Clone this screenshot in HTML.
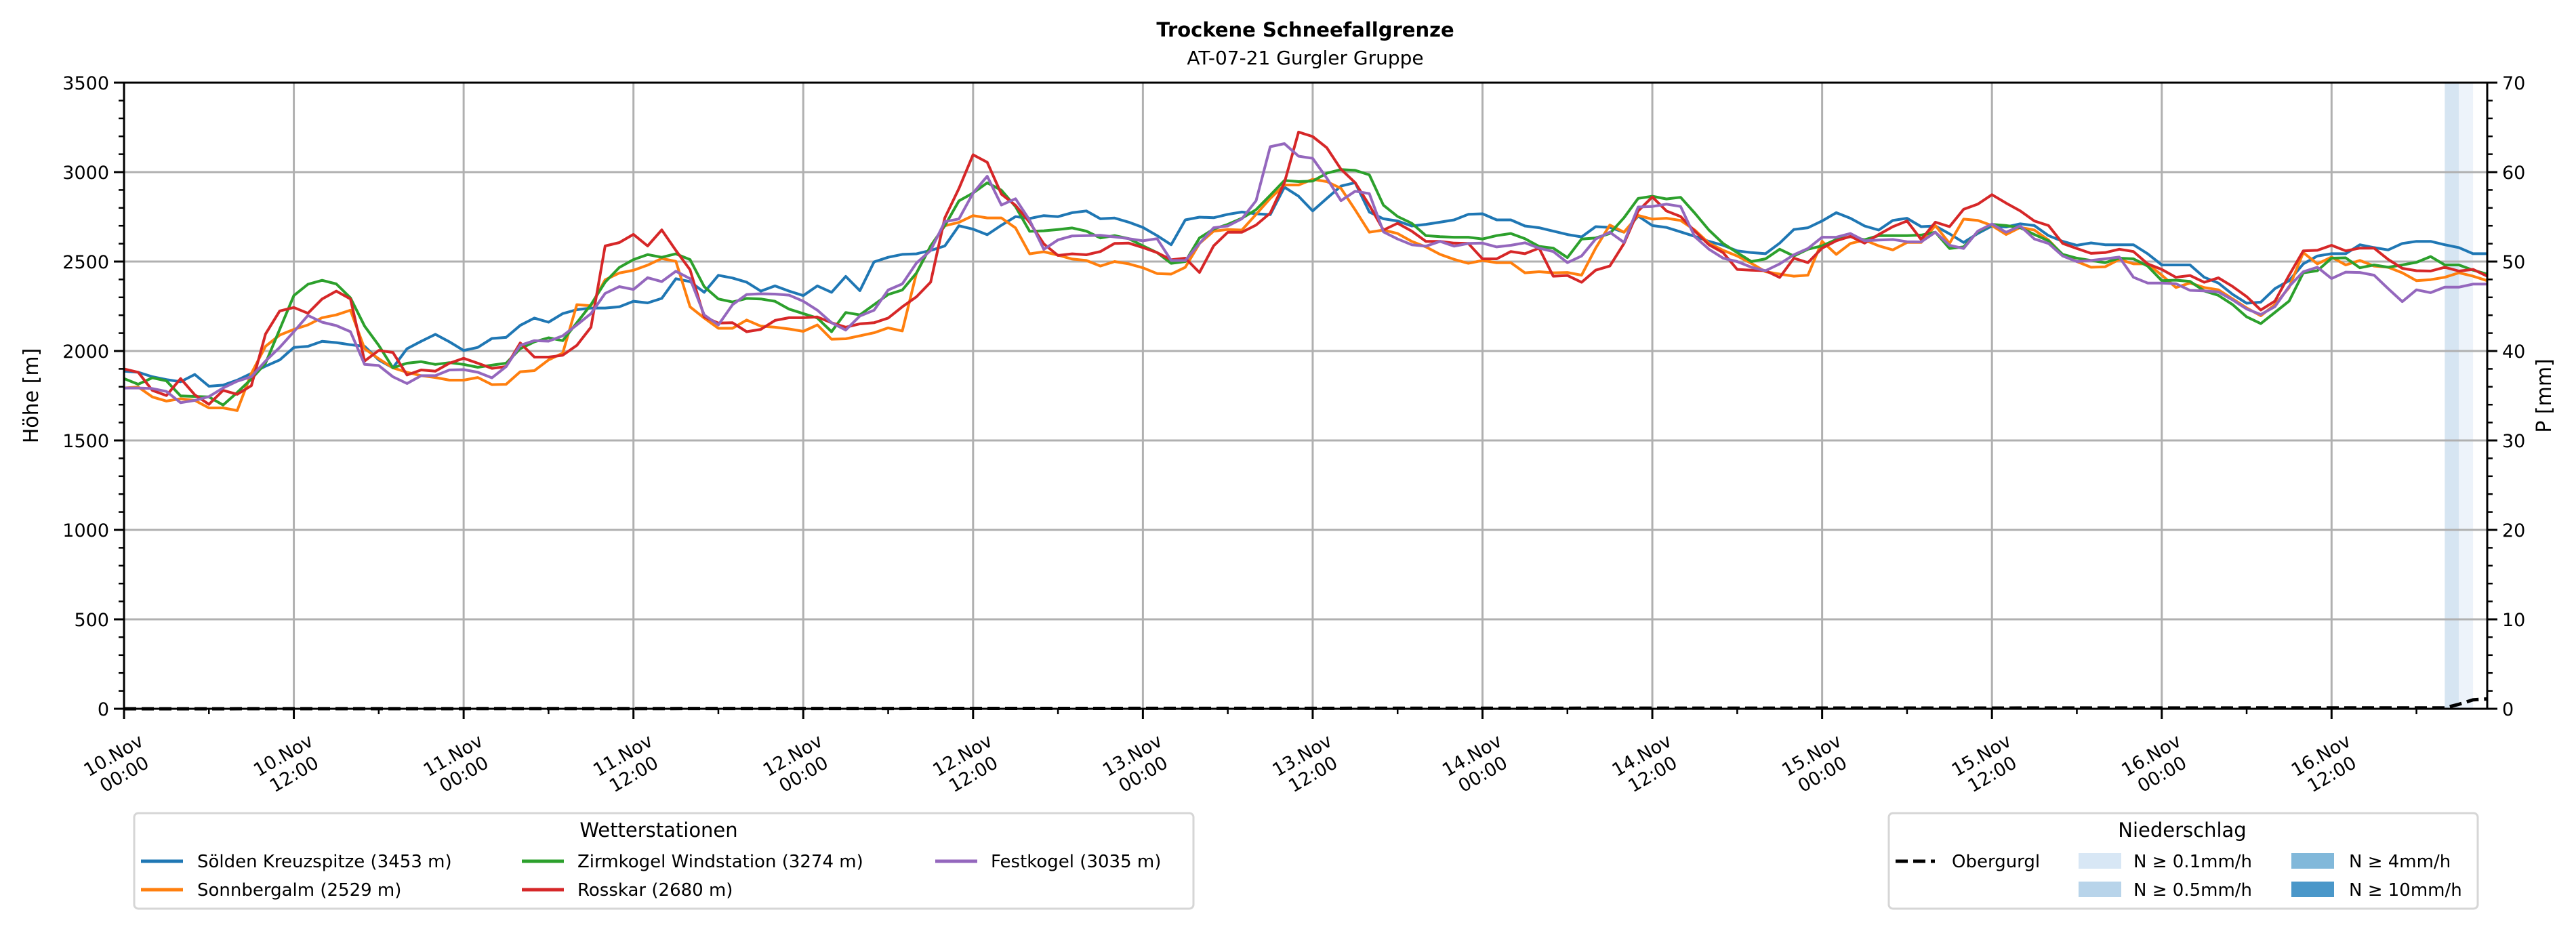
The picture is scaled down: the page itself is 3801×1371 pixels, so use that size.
<!DOCTYPE html>
<html>
<head>
<meta charset="utf-8">
<style>
  html,body{margin:0;padding:0;background:#fff;}
  svg{display:block;font-family:"DejaVu Sans","Liberation Sans",sans-serif;}
</style>
</head>
<body>
<svg id="chart" xmlns="http://www.w3.org/2000/svg" width="3801" height="1371" viewBox="0 0 3801 1371">
  <rect width="3801" height="1371" fill="#fff"/>
  <text x="1926" y="54" text-anchor="middle" font-size="29" font-weight="bold">Trockene Schneefallgrenze</text>
  <text x="1926" y="95" text-anchor="middle" font-size="28">AT-07-21 Gurgler Gruppe</text>
  <g id="bands"></g>
  <g id="grid"></g>
  <g id="series"></g>
  <g id="axes"></g>
  <text transform="translate(56,584) rotate(-90)" text-anchor="middle" font-size="30">Höhe [m]</text>
  <text transform="translate(3764,584) rotate(-90)" text-anchor="middle" font-size="30">P [mm]</text>

  <g>
    <rect x="198" y="1200" width="1563" height="141" rx="6" fill="#fff" stroke="#d6d6d6" stroke-width="3"/>
    <text x="972" y="1235" text-anchor="middle" font-size="29">Wetterstationen</text>
    <g><line x1="208" y1="1271" x2="270" y2="1271" stroke="#1f77b4" stroke-width="5"/><text x="291" y="1280" font-size="26">Sölden Kreuzspitze (3453 m)</text></g>
    <g><line x1="208" y1="1313" x2="270" y2="1313" stroke="#ff7f0e" stroke-width="5"/><text x="291" y="1322" font-size="26">Sonnbergalm (2529 m)</text></g>
    <g><line x1="770" y1="1271" x2="832" y2="1271" stroke="#2ca02c" stroke-width="5"/><text x="852" y="1280" font-size="26">Zirmkogel Windstation (3274 m)</text></g>
    <g><line x1="770" y1="1313" x2="832" y2="1313" stroke="#d62728" stroke-width="5"/><text x="852" y="1322" font-size="26">Rosskar (2680 m)</text></g>
    <g><line x1="1380" y1="1271" x2="1442" y2="1271" stroke="#9467bd" stroke-width="5"/><text x="1462" y="1280" font-size="26">Festkogel (3035 m)</text></g>
  </g>

  <g>
    <rect x="2787" y="1200" width="869" height="141" rx="6" fill="#fff" stroke="#d6d6d6" stroke-width="3"/>
    <text x="3220" y="1235" text-anchor="middle" font-size="29">Niederschlag</text>
    <g><line x1="2797" y1="1271" x2="2855" y2="1271" stroke="#000" stroke-width="5" stroke-dasharray="18,8"/><text x="2880" y="1280" font-size="26">Obergurgl</text></g>
    <g><rect x="3067" y="1259" width="63" height="23" fill="#d8e7f5"/><text x="3148" y="1280" font-size="26">N ≥ 0.1mm/h</text></g>
    <g><rect x="3067" y="1301" width="63" height="23" fill="#b8d4ea"/><text x="3148" y="1322" font-size="26">N ≥ 0.5mm/h</text></g>
    <g><rect x="3381" y="1259" width="63" height="23" fill="#81b8da"/><text x="3466" y="1280" font-size="26">N ≥ 4mm/h</text></g>
    <g><rect x="3381" y="1301" width="63" height="23" fill="#4a97c9"/><text x="3466" y="1322" font-size="26">N ≥ 10mm/h</text></g>
  </g>
</svg>
<script>
const soelden = [1887,1881,1856,1840,1828,1869,1803,1809,1837,1875,1915,1950,2020,2026,2054,2047,2035,2026,1950,1906,2013,2054,2093,2051,2003,2020,2070,2076,2143,2184,2161,2209,2231,2240,
2240,2247,2278,2269,2294,2404,2388,2328,2423,2408,2385,2335,2364,2335,2310,2364,2328,2417,2337,2498,2524,2540,2543,2562,2587,2700,2681,2650,2703,2751,2741,2757,2751,2773,
2783,2739,2743,2720,2691,2645,2594,2733,2748,2745,2764,2777,2767,2762,2916,2865,2783,2853,2922,2941,2777,2739,2727,2699,2708,2720,2733,2764,2767,2733,2733,2699,2689,
2670,2651,2638,2695,2691,2664,2754,2701,2691,2666,2641,2613,2591,2560,2550,2544,2603,2679,2689,2727,2773,2742,2699,2676,2730,2742,2695,2699,2655,2607,2657,2699,2693,2711,
2701,2645,2613,2591,2604,2594,2594,2594,2544,2481,2481,2481,2412,2380,2317,2267,2273,2349,2393,2487,2531,2544,2544,2594,2578,2565,2601,2613,2613,2594,2578,2544,2544];
const sonnbergalm = [1793,1799,1743,1720,1733,1724,1682,1682,1667,1875,2026,2089,2121,2146,2186,2202,2228,2013,1957,1906,1881,1862,1852,1837,1837,1852,1812,1814,1884,1890,1950,1988,2259,2253,
2398,2436,2451,2480,2517,2501,2247,2184,2127,2127,2173,2139,2133,2123,2110,2146,2066,2068,2085,2102,2129,2112,2436,2587,2700,2719,2757,2744,2744,2688,2543,2555,2536,2514,
2506,2475,2500,2487,2465,2433,2430,2468,2601,2670,2679,2676,2764,2853,2928,2928,2960,2947,2909,2789,2664,2676,2657,2613,2582,2540,2512,2490,2506,2494,2494,2437,2443,
2437,2439,2424,2575,2704,2664,2758,2737,2742,2730,2676,2603,2563,2531,2490,2443,2430,2418,2424,2613,2540,2601,2620,2588,2565,2607,2607,2701,2601,2737,2730,2701,2651,2691,
2676,2620,2538,2500,2468,2471,2512,2487,2487,2424,2355,2380,2355,2342,2292,2241,2197,2260,2355,2550,2487,2525,2481,2506,2475,2468,2437,2393,2399,2412,2437,2418,2393];
const zirmkogel = [1846,1814,1850,1833,1749,1746,1743,1698,1768,1843,1932,2121,2310,2373,2395,2375,2297,2139,2032,1906,1932,1940,1925,1935,1925,1909,1921,1932,2013,2051,2074,2058,2158,2259,
2385,2467,2511,2539,2524,2543,2511,2360,2291,2274,2294,2291,2278,2234,2209,2184,2108,2215,2202,2259,2316,2341,2436,2587,2700,2839,2883,2940,2899,2807,2669,2672,2679,2688,
2670,2632,2645,2628,2588,2550,2490,2500,2632,2682,2708,2742,2790,2871,2953,2947,2950,2994,3014,3010,2985,2815,2752,2714,2645,2639,2636,2636,2626,2645,2657,2628,2585,
2575,2522,2626,2632,2657,2745,2853,2865,2850,2859,2771,2676,2601,2550,2500,2515,2569,2531,2569,2588,2623,2639,2622,2645,2645,2645,2648,2664,2573,2582,2666,2708,2701,2689,
2651,2616,2540,2519,2506,2494,2519,2515,2475,2393,2396,2389,2336,2311,2260,2191,2153,2216,2279,2437,2449,2519,2521,2465,2481,2468,2481,2496,2528,2481,2481,2452,2430];
const rosskar = [1900,1881,1780,1751,1846,1755,1702,1780,1758,1806,2095,2224,2243,2211,2291,2335,2291,1944,2003,1992,1866,1894,1887,1932,1959,1932,1903,1913,2045,1966,1966,1976,2032,2133,
2587,2606,2652,2587,2677,2562,2454,2190,2156,2158,2108,2121,2171,2186,2186,2190,2158,2133,2152,2158,2184,2247,2303,2385,2744,2908,3097,3055,2877,2814,2719,2599,2534,2543,
2538,2556,2601,2603,2578,2550,2510,2519,2439,2588,2664,2664,2704,2771,2941,3224,3199,3136,3016,2941,2815,2676,2714,2670,2613,2613,2603,2601,2515,2515,2556,2544,2575,
2418,2422,2384,2452,2475,2601,2783,2861,2783,2752,2670,2594,2550,2456,2452,2449,2411,2519,2494,2575,2616,2641,2603,2651,2695,2727,2623,2720,2695,2792,2821,2874,2827,2783,
2727,2701,2601,2573,2546,2550,2569,2556,2487,2456,2412,2422,2384,2409,2361,2304,2229,2279,2424,2560,2563,2591,2560,2575,2575,2512,2462,2449,2447,2468,2447,2456,2418];
const festkogel = [1793,1793,1790,1774,1711,1724,1745,1793,1831,1856,1944,2020,2108,2199,2161,2142,2108,1925,1919,1856,1818,1862,1862,1894,1896,1881,1850,1913,2032,2058,2055,2085,2146,2209,
2322,2360,2344,2410,2388,2446,2404,2202,2146,2259,2316,2320,2318,2312,2278,2228,2158,2117,2196,2228,2341,2375,2492,2562,2723,2738,2883,2977,2816,2851,2731,2568,2621,2643,
2645,2647,2638,2628,2616,2628,2506,2506,2601,2689,2699,2739,2840,3142,3159,3089,3077,2966,2840,2893,2880,2666,2626,2594,2586,2613,2586,2601,2603,2582,2591,2605,2575,
2556,2494,2531,2626,2664,2607,2805,2808,2821,2808,2639,2569,2519,2500,2468,2449,2487,2538,2573,2636,2636,2657,2616,2620,2623,2611,2610,2664,2591,2573,2670,2710,2664,2699,
2626,2601,2531,2500,2506,2515,2525,2412,2380,2380,2376,2339,2336,2330,2286,2235,2204,2248,2361,2443,2468,2405,2441,2439,2424,2349,2276,2342,2326,2357,2357,2374,2374];
const precipHours = [164,165,166,167];
const precipValues = [0.1,0.5,1.0,1.1];
const bandStartHours = [164,165];
const bandRates = [0.3,0.12];
const yTicks = [0,500,1000,1500,2000,2500,3000,3500];
const y2Ticks = [0,10,20,30,40,50,60,70];
const xTickLabels = [["10.Nov","00:00"],["10.Nov","12:00"],["11.Nov","00:00"],["11.Nov","12:00"],["12.Nov","00:00"],["12.Nov","12:00"],["13.Nov","00:00"],["13.Nov","12:00"],["14.Nov","00:00"],["14.Nov","12:00"],["15.Nov","00:00"],["15.Nov","12:00"],["16.Nov","00:00"],["16.Nov","12:00"]];

const NS = "http://www.w3.org/2000/svg";
const L = 183, R = 3670, T = 122, B = 1046, HMAX = 167;
const xS = h => L + h * (R - L) / HMAX;
const yS = v => B - v * (B - T) / 3500;
const y2S = v => B - v * (B - T) / 70;
function mk(tag, attrs, parent) {
  const e = document.createElementNS(NS, tag);
  for (const k in attrs) e.setAttribute(k, attrs[k]);
  parent.appendChild(e);
  return e;
}
const gBands = document.getElementById('bands');
const gGrid = document.getElementById('grid');
const gSeries = document.getElementById('series');
const gAxes = document.getElementById('axes');

bandStartHours.forEach((h, i) => {
  const r = mk('rect', {x: xS(h), y: T, width: xS(h + 1) - xS(h), height: B - T, fill: bandRates[i] >= 0.2 ? '#d6e5f2' : '#edf3fa'}, gBands);
  
  
});

yTicks.forEach(v => {
  const ln = mk('line', {x1: L, x2: R, y1: yS(v), y2: yS(v), stroke: '#b0b0b0', 'stroke-width': 3}, gGrid);
  
  
});
xTickLabels.forEach((lab, i) => {
  const ln = mk('line', {x1: xS(i * 12), x2: xS(i * 12), y1: T, y2: B, stroke: '#b0b0b0', 'stroke-width': 3}, gGrid);
  
  
});

const seriesList = [[soelden, '#1f77b4', 'soelden'], [sonnbergalm, '#ff7f0e', 'sonnbergalm'], [zirmkogel, '#2ca02c', 'zirmkogel'], [rosskar, '#d62728', 'rosskar'], [festkogel, '#9467bd', 'festkogel']];
seriesList.forEach(([arr, col, nm]) => {
  const pts = arr.map((v, i) => xS(i).toFixed(1) + ',' + yS(v).toFixed(1)).join(' ');
  const pl = mk('polyline', {points: pts, fill: 'none', stroke: col, 'stroke-width': 4, 'stroke-linejoin': 'round'}, gSeries);
  
  
});

const pPts = [[0, 0]];
precipHours.forEach((h, i) => pPts.push([h, precipValues[i]]));
const dl = mk('polyline', {points: pPts.map(p => xS(p[0]).toFixed(1) + ',' + y2S(p[1]).toFixed(1)).join(' '), fill: 'none', stroke: '#000', 'stroke-width': 5, 'stroke-dasharray': '18,8'}, gSeries);



const fr = mk('rect', {x: L, y: T, width: R - L, height: B - T, fill: 'none', stroke: '#000', 'stroke-width': 3}, gAxes);



for (let v = 0; v <= 3500; v += 100) {
  const major = v % 500 === 0;
  mk('line', {x1: L - (major ? 15 : 8), x2: L, y1: yS(v), y2: yS(v), stroke: '#000', 'stroke-width': major ? 3 : 2.5}, gAxes);
}
yTicks.forEach(v => {
  const t = mk('text', {x: L - 22, y: yS(v) + 10, 'text-anchor': 'end', 'font-size': 27}, gAxes);
  t.textContent = v;
  
  
});
for (let v = 0; v <= 70; v += 2) {
  const major = v % 10 === 0;
  mk('line', {x1: R, x2: R + (major ? 15 : 8), y1: y2S(v), y2: y2S(v), stroke: '#000', 'stroke-width': major ? 3 : 2.5}, gAxes);
}
y2Ticks.forEach(v => {
  const t = mk('text', {x: R + 22, y: y2S(v) + 10, 'text-anchor': 'start', 'font-size': 27}, gAxes);
  t.textContent = v;
  
  
});
for (let h = 0; h <= HMAX; h += 6) {
  const major = h % 12 === 0;
  mk('line', {x1: xS(h), x2: xS(h), y1: B, y2: B + (major ? 15 : 8), stroke: '#000', 'stroke-width': major ? 3 : 2.5}, gAxes);
}
xTickLabels.forEach((lab, i) => {
  const cx = xS(i * 12) - 8, cy = 1128;
  const t = mk('text', {transform: 'translate(' + cx + ',' + cy + ') rotate(-30)', 'text-anchor': 'middle', 'font-size': 27}, gAxes);
  
  
  const a = mk('tspan', {x: 0, y: -6}, t); a.textContent = lab[0];
  const b = mk('tspan', {x: 0, y: 26}, t); b.textContent = lab[1];
});
</script>
</body>
</html>
